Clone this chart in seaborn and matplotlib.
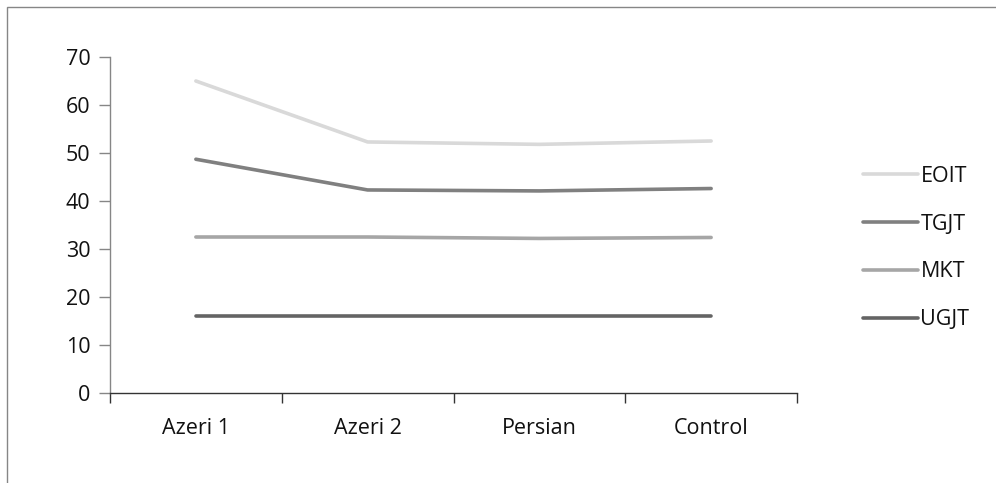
import matplotlib
matplotlib.use("Agg")
import matplotlib.pyplot as plt
import seaborn as sns
import pandas as pd
from matplotlib.patches import Rectangle
from matplotlib.ticker import FixedLocator

# --- data ---
groups = ["Azeri 1", "Azeri 2", "Persian", "Control"]
tests = ["EOIT", "TGJT", "MKT", "UGJT"]
eoit = [65.0, 52.3, 51.8, 52.5]
tgjt = [48.7, 42.3, 42.1, 42.6]
mkt = [32.5, 32.5, 32.2, 32.4]
ugjt = [16.1, 16.1, 16.1, 16.1]
colors = ["#d9d9d9", "#808080", "#a6a6a6", "#646464"]

rows = []
for test, vals in zip(tests, [eoit, tgjt, mkt, ugjt]):
    for g, v in zip(groups, vals):
        rows.append({"group": g, "score": v, "test": test})
df = pd.DataFrame(rows)

sns.set_style("white")
plt.rcParams['font.family'] = ['Open Sans', 'DejaVu Sans']
FS = 15.5

fig = plt.figure(figsize=(9.96, 4.83), dpi=100)
ax = fig.add_axes([110 / 996, 1 - 393 / 483, 687 / 996, 336 / 483])

sns.lineplot(data=df, x="group", y="score", hue="test", hue_order=tests,
             palette=colors, linewidth=2.6, ax=ax, sort=False)

ax.set_xlim(-0.5, 3.5)
ax.set_ylim(0, 70)
ax.set_yticks(range(0, 71, 10))
ax.set_xticks(range(len(groups)))
ax.set_xticklabels(groups)
ax.xaxis.set_minor_locator(FixedLocator([-0.5, 0.5, 1.5, 2.5, 3.5]))
ax.tick_params(axis="x", which="both", bottom=True)
ax.tick_params(axis="y", which="both", left=True)
ax.tick_params(axis="x", which="major", length=0, pad=18, labelsize=FS, labelcolor="#111111")
ax.tick_params(axis="x", which="minor", length=7, width=1, color="#333333", direction="out")
ax.tick_params(axis="y", which="major", length=8, width=1, color="#868686", direction="out",
               pad=6, labelsize=FS, labelcolor="#111111")
ax.set_xlabel("")
ax.set_ylabel("")

for side in ["top", "right"]:
    ax.spines[side].set_visible(False)
ax.spines["left"].set_color("#868686")
ax.spines["left"].set_linewidth(1)
ax.spines["bottom"].set_color("#333333")
ax.spines["bottom"].set_linewidth(1)

handles, labels = ax.get_legend_handles_labels()
leg = ax.legend(handles, labels, loc="center left", bbox_to_anchor=(844 / 996, 1 - 248 / 483),
                bbox_transform=fig.transFigure, frameon=False, fontsize=FS,
                handlelength=2.55, handletextpad=0.1, labelspacing=1.25)
for t in leg.get_texts():
    t.set_color("#111111")

# outer chart border (top and left visible)
fig.patches.append(Rectangle((7 / 996, -0.1), 1.2, 1.1 - 7 / 483, transform=fig.transFigure,
                             fill=False, edgecolor="#868686", linewidth=1))

fig.savefig("out.png", dpi=100)
